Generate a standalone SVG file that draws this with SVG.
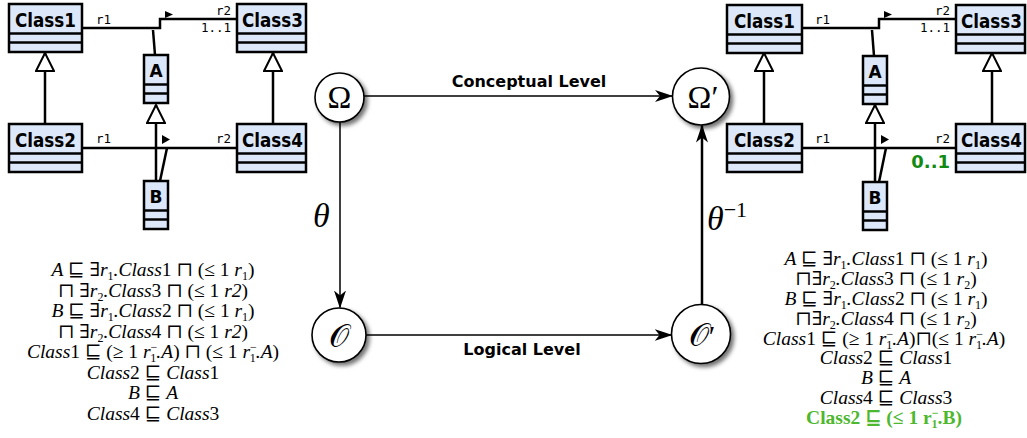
<svg xmlns="http://www.w3.org/2000/svg" width="1027" height="438" viewBox="0 0 1027 438">
<style>
.box{fill:#dce8fa;stroke:#000;stroke-width:2.5}
.sep{stroke:#000;stroke-width:2.5}
.cn{font-family:"DejaVu Sans",sans-serif;font-weight:bold;font-stretch:condensed;font-size:19px;text-anchor:middle}
.ab{font-family:"DejaVu Sans",sans-serif;font-weight:bold;font-size:17px;text-anchor:middle}
.lbl{font-family:"DejaVu Sans Mono",monospace;font-size:12.5px}
.end{text-anchor:end}
.ln{fill:none;stroke:#000;stroke-width:2.5}
.tri{fill:#000}
.circ{fill:#fff;stroke:#000;stroke-width:1.6}
.sym{font-family:"Liberation Serif","DejaVu Serif",serif;font-size:32px;text-anchor:middle}
.lvl{font-family:"DejaVu Sans",sans-serif;font-weight:bold;font-size:16px;text-anchor:middle}
.m{font-family:"Liberation Serif","DejaVu Serif",serif;font-size:19.5px;font-style:italic;text-anchor:middle}
.u{font-style:normal}
.sb{font-size:12px;font-style:normal}
.g{fill:#4db82e;font-weight:bold;font-style:normal}
</style>
<defs>
<marker id="gen" viewBox="0 0 20 20" refX="19" refY="10" markerWidth="20" markerHeight="20" markerUnits="userSpaceOnUse" orient="auto">
<path d="M1,1 L19,10 L1,19 z" fill="#fff" stroke="#000" stroke-width="2"/>
</marker>
<marker id="arr" viewBox="0 0 18 12" refX="17" refY="6" markerWidth="18" markerHeight="12" markerUnits="userSpaceOnUse" orient="auto">
<path d="M0,0 L18,6 L0,12 L5,6 z" fill="#000"/>
</marker>
<filter id="sh" x="-40%" y="-40%" width="190%" height="190%">
<feDropShadow dx="3" dy="3" stdDeviation="2" flood-color="#000" flood-opacity="0.55"/>
</filter>
</defs>

<!-- Left UML -->
<g id="uml-left">
<g id="connectors-left">
<polyline class="ln" points="82,28 160,28 160,19 237,19"/>
<line class="ln" x1="153" y1="30" x2="155" y2="55"/>
<line class="ln" x1="82" y1="148" x2="237" y2="148"/>
<line class="ln" x1="167" y1="148" x2="160" y2="181"/>
<line class="ln" x1="45" y1="124" x2="45" y2="53" marker-end="url(#gen)"/>
<line class="ln" x1="273" y1="124" x2="273" y2="53" marker-end="url(#gen)"/>
<line class="ln" x1="156" y1="181" x2="156" y2="105" marker-end="url(#gen)"/>
<polygon class="tri" points="165,11 173,14.5 165,18"/>
<polygon class="tri" points="162,135 170,139.5 162,144"/>
<text class="lbl" x="96" y="23.5">r1</text>
<text class="lbl end" x="231" y="15">r2</text>
<text class="lbl end" x="231" y="32">1..1</text>
<text class="lbl" x="96" y="143">r1</text>
<text class="lbl end" x="231" y="143">r2</text>
</g>
<g id="L-Class1"><rect class="box" x="9" y="4" width="73" height="48"/><line class="sep" x1="9" y1="33.5" x2="82" y2="33.5"/><line class="sep" x1="9" y1="42.5" x2="82" y2="42.5"/><text class="cn" x="45.5" y="27" textLength="61" lengthAdjust="spacingAndGlyphs">Class1</text></g>
<g id="L-Class3"><rect class="box" x="237" y="4" width="69" height="48"/><line class="sep" x1="237" y1="33.5" x2="306" y2="33.5"/><line class="sep" x1="237" y1="42.5" x2="306" y2="42.5"/><text class="cn" x="272.5" y="27" textLength="61" lengthAdjust="spacingAndGlyphs">Class3</text></g>
<g id="L-Class2"><rect class="box" x="9" y="124" width="73" height="48"/><line class="sep" x1="9" y1="153.5" x2="82" y2="153.5"/><line class="sep" x1="9" y1="162.5" x2="82" y2="162.5"/><text class="cn" x="45.5" y="147" textLength="61" lengthAdjust="spacingAndGlyphs">Class2</text></g>
<g id="L-Class4"><rect class="box" x="237" y="124" width="69" height="48"/><line class="sep" x1="237" y1="153.5" x2="306" y2="153.5"/><line class="sep" x1="237" y1="162.5" x2="306" y2="162.5"/><text class="cn" x="272.5" y="147" textLength="61" lengthAdjust="spacingAndGlyphs">Class4</text></g>
<g id="L-A"><rect class="box" x="144" y="55" width="24" height="48"/><line class="sep" x1="144" y1="84.5" x2="168" y2="84.5"/><line class="sep" x1="144" y1="93.5" x2="168" y2="93.5"/><text class="ab" x="156" y="77">A</text></g>
<g id="L-B"><rect class="box" x="144" y="181" width="24" height="48"/><line class="sep" x1="144" y1="210.5" x2="168" y2="210.5"/><line class="sep" x1="144" y1="219.5" x2="168" y2="219.5"/><text class="ab" x="156" y="203">B</text></g>
</g>

<!-- Right UML -->
<g id="uml-right" transform="translate(719,1)">
<g id="connectors-right">
<polyline class="ln" points="83,27 160,27 160,18 237,18"/>
<line class="ln" x1="153" y1="29" x2="155" y2="55"/>
<line class="ln" x1="83" y1="147" x2="237" y2="147"/>
<line class="ln" x1="167" y1="147" x2="160" y2="181"/>
<line class="ln" x1="45" y1="123" x2="45" y2="52" marker-end="url(#gen)"/>
<line class="ln" x1="273" y1="123" x2="273" y2="52" marker-end="url(#gen)"/>
<line class="ln" x1="156" y1="181" x2="156" y2="104" marker-end="url(#gen)"/>
<polygon class="tri" points="165,10 173,13.5 165,17"/>
<polygon class="tri" points="162,134 170,138.5 162,143"/>
<text class="lbl" x="96" y="22.5">r1</text>
<text class="lbl end" x="231" y="14">r2</text>
<text class="lbl end" x="231" y="31">1..1</text>
<text class="lbl" x="96" y="142">r1</text>
<text class="lbl end" x="231" y="142">r2</text>
<text x="231" y="167" text-anchor="end" font-family="DejaVu Sans,sans-serif" font-weight="bold" font-size="18" fill="#138a13">0..1</text>
</g>
<g id="R-Class1"><rect class="box" x="8" y="4" width="75" height="48"/><line class="sep" x1="8" y1="33.5" x2="83" y2="33.5"/><line class="sep" x1="8" y1="42.5" x2="83" y2="42.5"/><text class="cn" x="45.5" y="27" textLength="61" lengthAdjust="spacingAndGlyphs">Class1</text></g>
<g id="R-Class3"><rect class="box" x="237" y="4" width="69" height="48"/><line class="sep" x1="237" y1="33.5" x2="306" y2="33.5"/><line class="sep" x1="237" y1="42.5" x2="306" y2="42.5"/><text class="cn" x="272.5" y="27" textLength="61" lengthAdjust="spacingAndGlyphs">Class3</text></g>
<g id="R-Class2"><rect class="box" x="8" y="123" width="75" height="48"/><line class="sep" x1="8" y1="152.5" x2="83" y2="152.5"/><line class="sep" x1="8" y1="161.5" x2="83" y2="161.5"/><text class="cn" x="45.5" y="146" textLength="61" lengthAdjust="spacingAndGlyphs">Class2</text></g>
<g id="R-Class4"><rect class="box" x="237" y="123" width="69" height="48"/><line class="sep" x1="237" y1="152.5" x2="306" y2="152.5"/><line class="sep" x1="237" y1="161.5" x2="306" y2="161.5"/><text class="cn" x="272.5" y="146" textLength="61" lengthAdjust="spacingAndGlyphs">Class4</text></g>
<g id="R-A"><rect class="box" x="144" y="55" width="24" height="48"/><line class="sep" x1="144" y1="84.5" x2="168" y2="84.5"/><line class="sep" x1="144" y1="93.5" x2="168" y2="93.5"/><text class="ab" x="156" y="77">A</text></g>
<g id="R-B"><rect class="box" x="144" y="181" width="24" height="48"/><line class="sep" x1="144" y1="210.5" x2="168" y2="210.5"/><line class="sep" x1="144" y1="219.5" x2="168" y2="219.5"/><text class="ab" x="156" y="203">B</text></g>
</g>

<!-- Central diagram connectors -->
<g id="connectors">
<line x1="364" y1="96" x2="672" y2="96" stroke="#000" stroke-width="1.5" marker-end="url(#arr)"/>
<line x1="340" y1="122" x2="340" y2="307.5" stroke="#000" stroke-width="1.5" marker-end="url(#arr)"/>
<line x1="366" y1="335" x2="671.5" y2="335" stroke="#000" stroke-width="1.5" marker-end="url(#arr)"/>
<line x1="702" y1="304" x2="702" y2="125.5" stroke="#000" stroke-width="2.5" marker-end="url(#arr)"/>
<text class="lvl" x="529" y="87">Conceptual Level</text>
<text class="lvl" x="522" y="355">Logical Level</text>
<text x="313" y="227" font-family="Liberation Serif,serif" font-style="italic" font-size="34">θ</text>
<text x="707" y="230" font-family="Liberation Serif,serif" font-size="34"><tspan font-style="italic">θ</tspan><tspan font-size="22" dy="-13">−1</tspan></text>
</g>

<g id="Omega"><circle class="circ" cx="339.5" cy="97.5" r="24.5" filter="url(#sh)"/><text class="sym" x="339.5" y="108">Ω</text></g>
<g id="OmegaPrime"><circle class="circ" cx="701" cy="96.5" r="28.5" filter="url(#sh)"/><text class="sym" x="703" y="107.5">Ω′</text></g>
<g id="O"><circle class="circ" cx="339" cy="335" r="27" filter="url(#sh)"/><text class="sym" x="339" y="347" font-size="38">𝒪</text></g>
<g id="OPrime"><circle class="circ" cx="701" cy="334" r="29.5" filter="url(#sh)"/><text class="sym" x="702" y="346" font-size="38">𝒪<tspan font-size="30">′</tspan></text></g>

<!-- Left formulas -->
<g id="formulas-left">
<text class="m" x="153" y="276">A <tspan class="u">⊑ ∃</tspan>r<tspan class="sb" dy="4">1</tspan><tspan dy="-4">.Class</tspan><tspan class="u">1 ⊓ (≤ 1 </tspan>r<tspan class="sb" dy="4">1</tspan><tspan class="u" dy="-4">)</tspan></text>
<text class="m" x="153" y="297"><tspan class="u">⊓ ∃</tspan>r<tspan class="sb" dy="4">2</tspan><tspan dy="-4">.Class</tspan><tspan class="u">3 ⊓ (≤ 1 </tspan>r2<tspan class="u">)</tspan></text>
<text class="m" x="153" y="317">B <tspan class="u">⊑ ∃</tspan>r<tspan class="sb" dy="4">1</tspan><tspan dy="-4">.Class</tspan><tspan class="u">2 ⊓ (≤ 1 </tspan>r<tspan class="sb" dy="4">1</tspan><tspan class="u" dy="-4">)</tspan></text>
<text class="m" x="153" y="338"><tspan class="u">⊓ ∃</tspan>r<tspan class="sb" dy="4">2</tspan><tspan dy="-4">.Class</tspan><tspan class="u">4 ⊓ (≤ 1 </tspan>r2<tspan class="u">)</tspan></text>
<text class="m" x="153" y="358">Class<tspan class="u">1 ⊑ (≥ 1 </tspan>r<tspan class="sb" dy="-7">−</tspan><tspan class="sb" dx="-7" dy="11">1</tspan><tspan dy="-4">.A</tspan><tspan class="u">) ⊓ (≤ 1 </tspan>r<tspan class="sb" dy="-7">−</tspan><tspan class="sb" dx="-7" dy="11">1</tspan><tspan dy="-4">.A</tspan><tspan class="u">)</tspan></text>
<text class="m" x="153" y="379">Class<tspan class="u">2 ⊑ </tspan>Class<tspan class="u">1</tspan></text>
<text class="m" x="153" y="399">B <tspan class="u">⊑ </tspan>A</text>
<text class="m" x="153" y="420">Class<tspan class="u">4 ⊑ </tspan>Class<tspan class="u">3</tspan></text>
</g>

<!-- Right formulas -->
<g id="formulas-right">
<text class="m" x="886" y="265">A <tspan class="u">⊑ ∃</tspan>r<tspan class="sb" dy="4">1</tspan><tspan dy="-4">.Class</tspan><tspan class="u">1 ⊓ (≤ 1 </tspan>r<tspan class="sb" dy="4">1</tspan><tspan class="u" dy="-4">)</tspan></text>
<text class="m" x="886" y="285"><tspan class="u">⊓∃</tspan>r<tspan class="sb" dy="4">2</tspan><tspan dy="-4">.Class</tspan><tspan class="u">3 ⊓ (≤ 1 </tspan>r<tspan class="sb" dy="4">2</tspan><tspan class="u" dy="-4">)</tspan></text>
<text class="m" x="886" y="305">B <tspan class="u">⊑ ∃</tspan>r<tspan class="sb" dy="4">1</tspan><tspan dy="-4">.Class</tspan><tspan class="u">2 ⊓ (≤ 1 </tspan>r<tspan class="sb" dy="4">1</tspan><tspan class="u" dy="-4">)</tspan></text>
<text class="m" x="886" y="325"><tspan class="u">⊓∃</tspan>r<tspan class="sb" dy="4">2</tspan><tspan dy="-4">.Class</tspan><tspan class="u">4 ⊓ (≤ 1 </tspan>r<tspan class="sb" dy="4">2</tspan><tspan class="u" dy="-4">)</tspan></text>
<text class="m" x="884" y="345">Class<tspan class="u">1 ⊑ (≥ 1 </tspan>r<tspan class="sb" dy="-7">−</tspan><tspan class="sb" dx="-7" dy="11">1</tspan><tspan dy="-4">.A</tspan><tspan class="u">)⊓(≤ 1 </tspan>r<tspan class="sb" dy="-7">−</tspan><tspan class="sb" dx="-7" dy="11">1</tspan><tspan dy="-4">.A</tspan><tspan class="u">)</tspan></text>
<text class="m" x="886" y="364">Class<tspan class="u">2 ⊑ </tspan>Class<tspan class="u">1</tspan></text>
<text class="m" x="886" y="384">B <tspan class="u">⊑ </tspan>A</text>
<text class="m" x="886" y="404">Class<tspan class="u">4 ⊑ </tspan>Class<tspan class="u">3</tspan></text>
<text class="m g" x="884" y="424">Class2 ⊑ (≤ 1 r<tspan class="sb" dy="-7">−</tspan><tspan class="sb" dx="-7" dy="11">1</tspan><tspan dy="-4">.B)</tspan></text>
</g>
</svg>
